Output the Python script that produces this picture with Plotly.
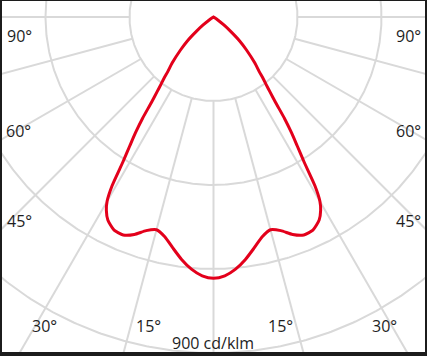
import numpy as np
import plotly.graph_objects as go

# Light distribution (cd/klm) vs angle from nadir (degrees), symmetric C0/C180
angles = [0, 2.5, 5, 7.5, 10, 12.5, 15, 17.5, 20, 22.5, 25, 27.5, 29, 30, 31, 32,
          33, 34, 35, 36, 37, 38, 39, 40, 42, 45, 47.5, 50, 52.5, 55, 57.5, 60, 70, 90, 180]
intensity = [700, 694, 678, 655, 628, 603, 590, 600, 620, 632, 630, 613, 592, 570, 528, 458,
             412, 373, 331, 283, 252, 228, 210, 190, 165, 125, 95, 60, 35, 15, 4, 0, 0, 0, 0]

ring_values = [225, 450, 675, 900]
spoke_angles = [-90, -75, -60, -45, -30, -15, 0, 15, 30, 45, 60, 75, 90]
scale_label = "900 cd/klm"
angle_tick_labels = ["90°", "60°", "45°", "30°", "15°"]

GRID = "#d9d9d9"
RED = "#e3001b"
TXT = "#1e1e1e"

fig = go.Figure()

# rings
t = np.linspace(0, 2 * np.pi, 721)
for rv in ring_values:
    fig.add_trace(go.Scatter(x=rv * np.sin(t), y=rv * np.cos(t), mode="lines",
                             line=dict(color=GRID, width=2), hoverinfo="skip", showlegend=False))

# spokes (start at inner ring)
r_in, r_out = ring_values[0], 2000
for a in spoke_angles:
    th = np.radians(a)
    fig.add_trace(go.Scatter(x=[r_in * np.sin(th), r_out * np.sin(th)],
                             y=[-r_in * np.cos(th), -r_out * np.cos(th)], mode="lines",
                             line=dict(color=GRID, width=2), hoverinfo="skip", showlegend=False))

# curve: left half (C180) then right half (C0)
ang = np.array(angles, dtype=float)
val = np.array(intensity, dtype=float)
full_ang = np.concatenate([-ang[::-1], ang[1:]])
full_val = np.concatenate([val[::-1], val[1:]])
th = np.radians(full_ang)
fig.add_trace(go.Scatter(x=full_val * np.sin(th), y=-full_val * np.cos(th), mode="lines",
                         line=dict(color=RED, width=3, shape="spline", smoothing=0.6),
                         hoverinfo="skip", showlegend=False))

# pixel geometry: plot area 423x351 px, center at (211.5, 16) px inside it, 900 <-> 336 px
s = ring_values[-1] / 336.0
xr = [-211.5 * s, 211.5 * s]
yr = [-335.0 * s, 16.0 * s]

ann = []
def lab(text, px, py, size=16):
    ann.append(dict(text=text, x=(px - 2) / 423.0, y=(352 - py) / 351.0, xref="paper", yref="paper",
                    showarrow=False, xanchor="center", yanchor="middle",
                    font=dict(family="Open Sans, Noto Sans, sans-serif", size=size, color=TXT)))

pos = {"90°": [(19, 36), (408, 36)], "60°": [(18, 131), (408, 131)], "45°": [(19, 221), (408, 221)],
       "30°": [(44, 326), (384, 326)], "15°": [(148, 326), (280, 326)]}
for lbl in angle_tick_labels:
    for (px, py) in pos[lbl]:
        lab(lbl, px, py)
lab(scale_label, 213, 343)

fig.update_layout(
    width=427, height=356, autosize=False,
    margin=dict(l=2, r=2, t=1, b=4, pad=0),
    paper_bgcolor="#1c1c1c", plot_bgcolor="white",
    xaxis=dict(range=xr, visible=False, fixedrange=True, showgrid=False, zeroline=False),
    yaxis=dict(range=yr, visible=False, fixedrange=True, showgrid=False, zeroline=False),
    annotations=ann, showlegend=False,
)
fig.write_html("out.html", config={"displayModeBar": False},
               post_script="document.body.style.margin='0px';document.body.style.overflow='hidden';")
